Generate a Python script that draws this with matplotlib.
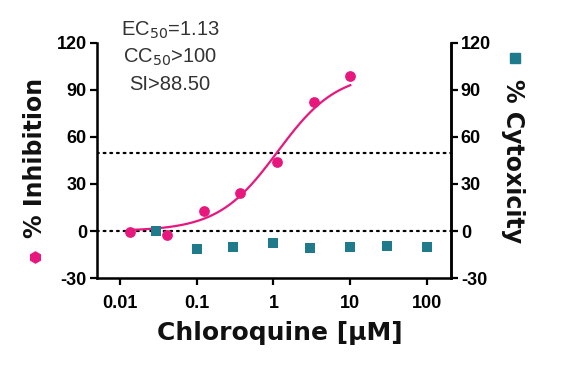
import numpy as np
import matplotlib
matplotlib.use("Agg")
import matplotlib.pyplot as plt

plt.rcParams['font.family'] = ['Liberation Sans', 'DejaVu Sans']

# Inhibition data (pink circles)
inh_conc = [0.0137, 0.041, 0.123, 0.37, 1.11, 3.33, 10]
inh_vals = [-0.5, -2.5, 13, 24, 44, 82, 99]

# Cytotoxicity data (teal squares)
cyt_conc = [0.03, 0.1, 0.3, 1, 3, 10, 30, 100]
cyt_vals = [0.3, -11.5, -10, -7.5, -11, -10, -9.4, -10.2]

# Fitted curve parameters (4PL)
ec50 = 1.13
hill = 1.12
top = 101
bottom = 0

yticks = [-30, 0, 30, 60, 90, 120]
xticks = [0.01, 0.1, 1, 10, 100]
xticklabels = ['0.01', '0.1', '1', '10', '100']

pink = '#E8177E'
teal = '#1F7A8C'

fig = plt.figure(figsize=(5.8, 3.65), dpi=100)
ax = fig.add_axes([0.1667, 0.238, 0.611, 0.645])
ax.set_xscale('log')
ax.set_xlim(0.005, 205)
ax.set_ylim(-30, 120)

xf = np.logspace(np.log10(inh_conc[0]), np.log10(inh_conc[-1]), 200)
yf = bottom + (top - bottom) / (1 + (ec50 / xf) ** hill)
ax.plot(xf, yf, color=pink, lw=1.6, zorder=3)

ax.axhline(50, color='black', lw=1.6, ls=(0, (0.8, 2.2)), dash_capstyle='round', zorder=1)
ax.axhline(0, color='black', lw=1.6, ls=(0, (0.8, 2.2)), dash_capstyle='round', zorder=1)

ax.scatter(cyt_conc, cyt_vals, marker='s', s=55, color=teal, zorder=4, linewidths=0)
ax.scatter(inh_conc, inh_vals, marker='o', s=60, color=pink, zorder=5, linewidths=0)

ax.set_yticks(yticks)
ax.set_yticklabels([str(t) for t in yticks])
ax.set_xticks(xticks)
ax.set_xticklabels(xticklabels)
ax.minorticks_off()
ax.tick_params(axis='both', which='major', direction='out', length=5, width=1.6,
               labelsize=13, pad=2)
for lab in ax.get_xticklabels() + ax.get_yticklabels():
    lab.set_fontweight('bold')
ax.tick_params(axis='x', pad=7)

ax.spines['top'].set_visible(False)
for s in ['left', 'bottom', 'right']:
    ax.spines[s].set_linewidth(1.8)

ax2 = ax.twinx()
ax2.set_ylim(-30, 120)
ax2.set_yticks(yticks)
ax2.set_yticklabels([str(t) for t in yticks])
ax2.tick_params(axis='y', direction='out', length=5, width=1.6, labelsize=13, pad=2)
for lab in ax2.get_yticklabels():
    lab.set_fontweight('bold')
ax2.spines['top'].set_visible(False)
ax2.spines['right'].set_linewidth(1.8)

lab_font = ['DejaVu Sans']
fig.text(280 / 580, 1 - 333 / 365, 'Chloroquine [μM]', fontsize=18, fontweight='bold',
         family=lab_font, ha='center', va='center', color='#111111')

# Y axis labels with legend-like markers
fig.text(35 / 580, 1 - 158 / 365, '% Inhibition', rotation=90, fontsize=17,
         fontweight='bold', family=lab_font, ha='center', va='center', color='#111111')
fig.text(513 / 580, 1 - 161 / 365, '% Cytoxicity', rotation=270, fontsize=17,
         fontweight='bold', family=lab_font, ha='center', va='center', color='#111111')
fig.lines.append(plt.Line2D([35 / 580], [1 - 257 / 365], marker='h', ms=8,
                            color=pink, mec=pink, transform=fig.transFigure))
fig.lines.append(plt.Line2D([515 / 580], [1 - 58 / 365], marker='s', ms=6.5,
                            color=teal, mec=teal, transform=fig.transFigure))

# Annotation text
fig.text(170 / 580, 1 - 30 / 365, 'EC$_{50}$=1.13', fontsize=14.5, ha='center', va='center', color='#333333')
fig.text(170 / 580, 1 - 57 / 365, 'CC$_{50}$>100', fontsize=14.5, ha='center', va='center', color='#333333')
fig.text(170 / 580, 1 - 85 / 365, 'SI>88.50', fontsize=14.5, ha='center', va='center', color='#333333')

fig.savefig('out.png', dpi=100, facecolor='white')
